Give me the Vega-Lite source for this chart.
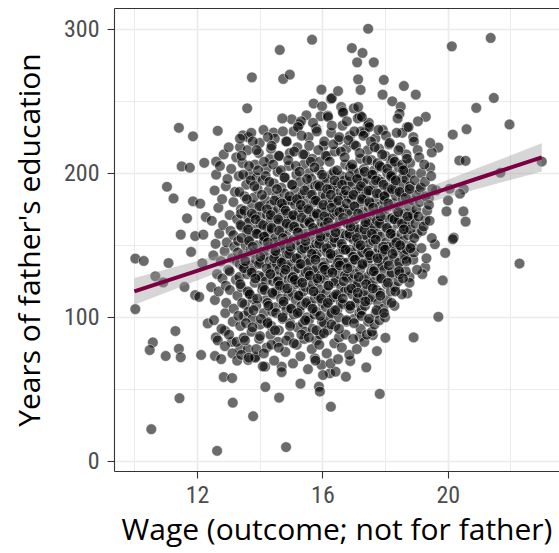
{
"$schema": "https://vega.github.io/schema/vega-lite/v6.json",
"width": 445, "height": 463,
"autosize": {"type": "none"},
"padding": {"left": 114, "top": 8, "right": 0, "bottom": 82},
"background": "white",
"config": {"view": {"stroke": null}, "font": "Open Sans"},
"datasets": {
"band": [
{"x":10,"y":118,"lo":108.7,"hi":127.3},{"x":11,"y":125.15,"lo":117.1,"hi":133.2},{"x":12,"y":132.3,"lo":125.6,"hi":139.0},{"x":13,"y":139.45,"lo":133.9,"hi":145.0},{"x":14,"y":146.6,"lo":142.2,"hi":151.0},{"x":15,"y":153.75,"lo":150.2,"hi":157.3},{"x":16,"y":160.9,"lo":157.9,"hi":163.9},{"x":17,"y":168.05,"lo":164.9,"hi":171.2},{"x":18,"y":175.2,"lo":171.4,"hi":179.0},{"x":19,"y":182.35,"lo":177.5,"hi":187.2},{"x":20,"y":189.5,"lo":183.5,"hi":195.5},{"x":21,"y":196.65,"lo":189.4,"hi":203.9},{"x":22,"y":203.8,"lo":195.3,"hi":212.3},{"x":23,"y":210.95,"lo":201.1,"hi":220.8}
],
"pts": [
{"x":10.03,"y":140.8},{"x":10.3,"y":139.1},{"x":11.09,"y":137.7},{"x":10.67,"y":128.5},{"x":10.92,"y":124.2},{"x":11.81,"y":145.4},{"x":12.17,"y":137.5},{"x":11.6,"y":121.1},{"x":11.94,"y":115.4},{"x":12.07,"y":114.2},{"x":10.03,"y":105.7},{"x":12.34,"y":95.8},{"x":12.6,"y":86.1},{"x":12.89,"y":90.7},{"x":12.57,"y":73.2},{"x":12.13,"y":73.9},{"x":13.11,"y":82.9},{"x":13.37,"y":78.2},{"x":11.31,"y":90.5},{"x":10.59,"y":82.6},{"x":10.49,"y":77.3},{"x":11.0,"y":73.2},{"x":11.42,"y":78.2},{"x":11.48,"y":72.3},{"x":12.85,"y":58.6},{"x":13.12,"y":57.9},{"x":11.44,"y":43.9},{"x":13.14,"y":40.8},{"x":13.79,"y":31.4},{"x":14.62,"y":44.3},{"x":14.18,"y":51.7},{"x":15.3,"y":54},{"x":10.54,"y":22.4},{"x":12.64,"y":7.4},{"x":14.84,"y":10},{"x":13.63,"y":70.4},{"x":13.85,"y":72.7},{"x":14.17,"y":65.8},{"x":14.7,"y":65.8},{"x":15.89,"y":51.9},{"x":15.92,"y":48.5},{"x":16.27,"y":38},{"x":15.76,"y":71.6},{"x":15.97,"y":67},{"x":16.24,"y":61.2},
{"x":15.67,"y":292.6},{"x":14.64,"y":285.5},{"x":13.75,"y":266.5},{"x":14.75,"y":265.4},{"x":14.96,"y":268.4},{"x":15.97,"y":258},{"x":13.6,"y":245},{"x":15.72,"y":248.3},{"x":15.99,"y":246.4},{"x":16.27,"y":251.5},{"x":15.02,"y":237.4},{"x":15.26,"y":233.8},{"x":15.49,"y":240.2},{"x":15.94,"y":239.5},{"x":11.42,"y":231.5},{"x":11.87,"y":225.6},{"x":12.66,"y":229.4},{"x":13.46,"y":226.3},{"x":13.63,"y":225},{"x":13.37,"y":218},{"x":14.44,"y":228.2},{"x":11.51,"y":204.7},{"x":11.77,"y":203.8},{"x":12.23,"y":207.2},{"x":12.61,"y":208.1},{"x":11.04,"y":190.6},{"x":11.25,"y":182.5},{"x":11.87,"y":180.5},{"x":12.1,"y":178.9},{"x":11.68,"y":168.7},{"x":12.28,"y":169.6},{"x":11.48,"y":157.4},{"x":11.94,"y":156.4},{"x":12.2,"y":157.4},
{"x":17.46,"y":300.2},{"x":16.94,"y":286.8},{"x":17.28,"y":283.4},{"x":17.11,"y":276.9},{"x":17.64,"y":276.9},{"x":17.14,"y":265.1},{"x":17.22,"y":257.8},{"x":17.96,"y":264.7},{"x":18.6,"y":260.5},{"x":18.98,"y":254.5},{"x":17.92,"y":254.5},{"x":18.23,"y":249.9},{"x":18.5,"y":246.2},{"x":18.46,"y":241.2},{"x":19.3,"y":239.1},{"x":20.13,"y":288},{"x":21.37,"y":293.8},{"x":21.47,"y":252.2},{"x":20.91,"y":245.3},{"x":21.97,"y":233.8},{"x":20.16,"y":226.8},{"x":20.6,"y":230.5},{"x":19.7,"y":217.8},{"x":19.49,"y":214.4},{"x":20.37,"y":208.8},{"x":20.57,"y":208.6},{"x":19.44,"y":204},{"x":23.0,"y":208.1},{"x":21.68,"y":200.3},{"x":20.06,"y":189.2},{"x":20.51,"y":189},{"x":20.39,"y":185.8},{"x":20.01,"y":181.1},{"x":19.96,"y":173.5},{"x":20.5,"y":173.5},{"x":20.57,"y":166.4},{"x":19.63,"y":188.1},{"x":19.1,"y":188.5},{"x":19.4,"y":183},{"x":19.29,"y":167.3},{"x":18.89,"y":171.9},{"x":20.19,"y":155.3},{"x":19.02,"y":158.1},
{"x":22.29,"y":137.3},{"x":19.7,"y":100.4},{"x":18.91,"y":86.1},{"x":18.01,"y":85.8},{"x":17.83,"y":46.9},{"x":17.74,"y":76.6},{"x":17.4,"y":65.3},{"x":16.89,"y":69.7},{"x":16.75,"y":58.8},{"x":16.42,"y":62.3},{"x":19.84,"y":125.6},{"x":19.92,"y":144.7},{"x":20.16,"y":154.2},{"x":19.59,"y":150.7},{"x":19.28,"y":134.6},{"x":19.19,"y":130},{"x":18.66,"y":140.8},{"x":18.78,"y":128},{"x":18.71,"y":116.6},{"x":17.19,"y":86.5},{"x":17.61,"y":87.7},
{"x":16.3,"y":252},{"x":16.6,"y":246},{"x":16.5,"y":257},{"x":17.2,"y":240},{"x":17.45,"y":233},{"x":17.0,"y":245},{"x":17.35,"y":228},{"x":18.4,"y":238},{"x":18.7,"y":232},{"x":19.05,"y":236},{"x":18.9,"y":225},{"x":18.55,"y":228},
{"x":12.54,"y":98},{"x":12.45,"y":121},{"x":12.52,"y":143},{"x":12.47,"y":167},{"x":12.56,"y":188},
{"x":12.66,"y":84},{"x":12.57,"y":112},{"x":12.64,"y":130},{"x":12.59,"y":151},{"x":12.68,"y":176},{"x":12.61,"y":199},
{"x":12.78,"y":92},{"x":12.69,"y":118},{"x":12.76,"y":139},{"x":12.71,"y":158},{"x":12.80,"y":182},{"x":12.73,"y":205},{"x":12.77,"y":71},
{"x":12.90,"y":103},{"x":12.81,"y":127},{"x":12.88,"y":146},{"x":12.83,"y":164},{"x":12.92,"y":191},{"x":12.85,"y":213},{"x":12.89,"y":80},
{"x":13.02,"y":88},{"x":12.93,"y":110},{"x":13.00,"y":133},{"x":12.95,"y":152},{"x":13.04,"y":171},{"x":12.97,"y":196},{"x":13.01,"y":218},{"x":12.92,"y":122},
{"x":13.14,"y":97},{"x":13.05,"y":119},{"x":13.12,"y":141},{"x":13.07,"y":160},{"x":13.16,"y":180},{"x":13.09,"y":203},{"x":13.13,"y":75},{"x":13.04,"y":132},
{"x":13.26,"y":83},{"x":13.17,"y":106},{"x":13.24,"y":126},{"x":13.19,"y":149},{"x":13.28,"y":168},{"x":13.21,"y":187},{"x":13.25,"y":211},{"x":13.16,"y":157},{"x":13.27,"y":139},
{"x":13.38,"y":94},{"x":13.29,"y":115},{"x":13.36,"y":137},{"x":13.31,"y":153},{"x":13.40,"y":175},{"x":13.33,"y":198},{"x":13.37,"y":224},{"x":13.28,"y":70},{"x":13.35,"y":128},
{"x":13.50,"y":101},{"x":13.41,"y":121},{"x":13.48,"y":144},{"x":13.43,"y":163},{"x":13.52,"y":184},{"x":13.45,"y":207},{"x":13.49,"y":86},{"x":13.40,"y":172},{"x":13.47,"y":135},
{"x":13.62,"y":78},{"x":13.53,"y":109},{"x":13.60,"y":130},{"x":13.55,"y":150},{"x":13.64,"y":169},{"x":13.57,"y":192},{"x":13.61,"y":216},{"x":13.52,"y":141},{"x":13.59,"y":160},
{"x":13.74,"y":90},{"x":13.65,"y":117},{"x":13.72,"y":136},{"x":13.67,"y":155},{"x":13.76,"y":178},{"x":13.69,"y":199},{"x":13.73,"y":228},{"x":13.64,"y":104},{"x":13.71,"y":147},{"x":13.66,"y":166},
{"x":13.86,"y":72},{"x":13.77,"y":99},{"x":13.84,"y":124},{"x":13.79,"y":145},{"x":13.88,"y":161},{"x":13.81,"y":183},{"x":13.85,"y":206},{"x":13.76,"y":132},{"x":13.83,"y":171},{"x":13.78,"y":113},
{"x":13.98,"y":85},{"x":13.89,"y":108},{"x":13.96,"y":129},{"x":13.91,"y":150},{"x":14.00,"y":170},{"x":13.93,"y":189},{"x":13.97,"y":214},{"x":13.88,"y":140},{"x":13.95,"y":158},{"x":13.90,"y":197},
{"x":14.10,"y":66},{"x":14.01,"y":95},{"x":14.08,"y":119},{"x":14.03,"y":138},{"x":14.12,"y":156},{"x":14.05,"y":177},{"x":14.09,"y":195},{"x":14.00,"y":221},{"x":14.07,"y":128},{"x":14.02,"y":165},{"x":14.11,"y":146},
{"x":14.22,"y":79},{"x":14.13,"y":103},{"x":14.20,"y":125},{"x":14.15,"y":143},{"x":14.24,"y":162},{"x":14.17,"y":182},{"x":14.21,"y":203},{"x":14.12,"y":230},{"x":14.19,"y":112},{"x":14.14,"y":153},{"x":14.23,"y":171},
{"x":14.34,"y":88},{"x":14.25,"y":110},{"x":14.32,"y":131},{"x":14.27,"y":149},{"x":14.36,"y":167},{"x":14.29,"y":188},{"x":14.33,"y":210},{"x":14.24,"y":97},{"x":14.31,"y":139},{"x":14.26,"y":158},{"x":14.35,"y":178},
{"x":14.46,"y":70},{"x":14.37,"y":94},{"x":14.44,"y":116},{"x":14.39,"y":135},{"x":14.48,"y":152},{"x":14.41,"y":173},{"x":14.45,"y":193},{"x":14.36,"y":217},{"x":14.43,"y":125},{"x":14.38,"y":161},{"x":14.47,"y":144},{"x":14.40,"y":104},
{"x":14.58,"y":83},{"x":14.49,"y":107},{"x":14.56,"y":128},{"x":14.51,"y":146},{"x":14.60,"y":165},{"x":14.53,"y":184},{"x":14.57,"y":201},{"x":14.48,"y":224},{"x":14.55,"y":137},{"x":14.50,"y":155},{"x":14.59,"y":175},{"x":14.52,"y":118},
{"x":14.70,"y":62},{"x":14.61,"y":91},{"x":14.68,"y":113},{"x":14.63,"y":133},{"x":14.72,"y":150},{"x":14.65,"y":169},{"x":14.69,"y":190},{"x":14.60,"y":212},{"x":14.67,"y":123},{"x":14.62,"y":141},{"x":14.71,"y":159},{"x":14.64,"y":180},
{"x":14.82,"y":76},{"x":14.73,"y":99},{"x":14.80,"y":120},{"x":14.75,"y":139},{"x":14.84,"y":157},{"x":14.77,"y":176},{"x":14.81,"y":197},{"x":14.72,"y":238},{"x":14.79,"y":130},{"x":14.74,"y":148},{"x":14.83,"y":166},{"x":14.76,"y":109},{"x":14.78,"y":186},
{"x":14.94,"y":87},{"x":14.85,"y":105},{"x":14.92,"y":126},{"x":14.87,"y":144},{"x":14.96,"y":163},{"x":14.89,"y":181},{"x":14.93,"y":205},{"x":14.84,"y":222},{"x":14.91,"y":115},{"x":14.86,"y":135},{"x":14.95,"y":153},{"x":14.88,"y":172},
{"x":15.06,"y":68},{"x":14.97,"y":96},{"x":15.04,"y":117},{"x":14.99,"y":137},{"x":15.08,"y":154},{"x":15.01,"y":170},{"x":15.05,"y":192},{"x":14.96,"y":214},{"x":15.03,"y":127},{"x":14.98,"y":146},{"x":15.07,"y":162},{"x":15.00,"y":181},{"x":15.02,"y":106},
{"x":15.18,"y":81},{"x":15.09,"y":102},{"x":15.16,"y":123},{"x":15.11,"y":141},{"x":15.20,"y":159},{"x":15.13,"y":178},{"x":15.17,"y":199},{"x":15.08,"y":229},{"x":15.15,"y":112},{"x":15.10,"y":132},{"x":15.19,"y":150},{"x":15.12,"y":168},{"x":15.14,"y":188},
{"x":15.30,"y":73},{"x":15.21,"y":93},{"x":15.28,"y":115},{"x":15.23,"y":134},{"x":15.32,"y":152},{"x":15.25,"y":173},{"x":15.29,"y":194},{"x":15.20,"y":218},{"x":15.27,"y":104},{"x":15.22,"y":124},{"x":15.31,"y":143},{"x":15.24,"y":162},{"x":15.26,"y":183},
{"x":15.42,"y":85},{"x":15.33,"y":108},{"x":15.40,"y":128},{"x":15.35,"y":147},{"x":15.44,"y":165},{"x":15.37,"y":185},{"x":15.41,"y":206},{"x":15.32,"y":236},{"x":15.39,"y":118},{"x":15.34,"y":137},{"x":15.43,"y":156},{"x":15.36,"y":175},{"x":15.38,"y":96},
{"x":15.54,"y":64},{"x":15.45,"y":90},{"x":15.52,"y":111},{"x":15.47,"y":131},{"x":15.56,"y":149},{"x":15.49,"y":168},{"x":15.53,"y":190},{"x":15.44,"y":213},{"x":15.51,"y":100},{"x":15.46,"y":121},{"x":15.55,"y":140},{"x":15.48,"y":158},{"x":15.50,"y":179},{"x":15.57,"y":200},
{"x":15.66,"y":78},{"x":15.57,"y":98},{"x":15.64,"y":119},{"x":15.59,"y":138},{"x":15.68,"y":156},{"x":15.61,"y":174},{"x":15.65,"y":196},{"x":15.56,"y":225},{"x":15.63,"y":108},{"x":15.58,"y":128},{"x":15.67,"y":147},{"x":15.60,"y":165},{"x":15.62,"y":185},
{"x":15.78,"y":70},{"x":15.69,"y":92},{"x":15.76,"y":113},{"x":15.71,"y":132},{"x":15.80,"y":151},{"x":15.73,"y":170},{"x":15.77,"y":191},{"x":15.68,"y":210},{"x":15.75,"y":102},{"x":15.70,"y":123},{"x":15.79,"y":142},{"x":15.72,"y":160},{"x":15.74,"y":180},{"x":15.81,"y":84},
{"x":15.90,"y":81},{"x":15.81,"y":104},{"x":15.88,"y":125},{"x":15.83,"y":144},{"x":15.92,"y":162},{"x":15.85,"y":181},{"x":15.89,"y":202},{"x":15.80,"y":231},{"x":15.87,"y":115},{"x":15.82,"y":134},{"x":15.91,"y":153},{"x":15.84,"y":171},{"x":15.86,"y":192},
{"x":16.02,"y":60},{"x":15.93,"y":88},{"x":16.00,"y":110},{"x":15.95,"y":129},{"x":16.04,"y":148},{"x":15.97,"y":166},{"x":16.01,"y":186},{"x":15.92,"y":208},{"x":15.99,"y":97},{"x":15.94,"y":119},{"x":16.03,"y":138},{"x":15.96,"y":157},{"x":15.98,"y":176},{"x":16.05,"y":197},
{"x":16.14,"y":75},{"x":16.05,"y":96},{"x":16.12,"y":117},{"x":16.07,"y":136},{"x":16.16,"y":155},{"x":16.09,"y":173},{"x":16.13,"y":194},{"x":16.04,"y":219},{"x":16.11,"y":107},{"x":16.06,"y":127},{"x":16.15,"y":145},{"x":16.08,"y":164},{"x":16.10,"y":184},{"x":16.17,"y":240},
{"x":16.26,"y":68},{"x":16.17,"y":91},{"x":16.24,"y":112},{"x":16.19,"y":131},{"x":16.28,"y":150},{"x":16.21,"y":169},{"x":16.25,"y":189},{"x":16.16,"y":212},{"x":16.23,"y":101},{"x":16.18,"y":122},{"x":16.27,"y":141},{"x":16.20,"y":159},{"x":16.22,"y":179},{"x":16.29,"y":199},
{"x":16.38,"y":82},{"x":16.29,"y":103},{"x":16.36,"y":124},{"x":16.31,"y":143},{"x":16.40,"y":161},{"x":16.33,"y":180},{"x":16.37,"y":201},{"x":16.28,"y":228},{"x":16.35,"y":114},{"x":16.30,"y":133},{"x":16.39,"y":152},{"x":16.32,"y":171},{"x":16.34,"y":190},
{"x":16.50,"y":71},{"x":16.41,"y":94},{"x":16.48,"y":115},{"x":16.43,"y":135},{"x":16.52,"y":154},{"x":16.45,"y":173},{"x":16.49,"y":193},{"x":16.40,"y":215},{"x":16.47,"y":105},{"x":16.42,"y":125},{"x":16.51,"y":144},{"x":16.44,"y":163},{"x":16.46,"y":183},{"x":16.53,"y":86},
{"x":16.62,"y":79},{"x":16.53,"y":100},{"x":16.60,"y":121},{"x":16.55,"y":140},{"x":16.64,"y":158},{"x":16.57,"y":177},{"x":16.61,"y":198},{"x":16.52,"y":223},{"x":16.59,"y":110},{"x":16.54,"y":130},{"x":16.63,"y":149},{"x":16.56,"y":167},{"x":16.58,"y":187},{"x":16.65,"y":243},
{"x":16.74,"y":88},{"x":16.65,"y":109},{"x":16.72,"y":129},{"x":16.67,"y":147},{"x":16.76,"y":166},{"x":16.69,"y":185},{"x":16.73,"y":206},{"x":16.64,"y":233},{"x":16.71,"y":118},{"x":16.66,"y":138},{"x":16.75,"y":157},{"x":16.68,"y":175},{"x":16.70,"y":195},
{"x":16.86,"y":74},{"x":16.77,"y":97},{"x":16.84,"y":119},{"x":16.79,"y":138},{"x":16.88,"y":156},{"x":16.81,"y":174},{"x":16.85,"y":194},{"x":16.76,"y":217},{"x":16.83,"y":108},{"x":16.78,"y":128},{"x":16.87,"y":147},{"x":16.80,"y":165},{"x":16.82,"y":184},{"x":16.89,"y":204},
{"x":16.98,"y":85},{"x":16.89,"y":106},{"x":16.96,"y":126},{"x":16.91,"y":145},{"x":17.00,"y":163},{"x":16.93,"y":182},{"x":16.97,"y":203},{"x":16.88,"y":226},{"x":16.95,"y":116},{"x":16.90,"y":135},{"x":16.99,"y":154},{"x":16.92,"y":172},{"x":16.94,"y":192},
{"x":17.10,"y":78},{"x":17.01,"y":99},{"x":17.08,"y":121},{"x":17.03,"y":140},{"x":17.12,"y":159},{"x":17.05,"y":177},{"x":17.09,"y":197},{"x":17.00,"y":220},{"x":17.07,"y":110},{"x":17.02,"y":130},{"x":17.11,"y":149},{"x":17.04,"y":168},{"x":17.06,"y":187},{"x":17.13,"y":238},
{"x":17.22,"y":92},{"x":17.13,"y":113},{"x":17.20,"y":133},{"x":17.15,"y":151},{"x":17.24,"y":170},{"x":17.17,"y":189},{"x":17.21,"y":210},{"x":17.12,"y":123},{"x":17.19,"y":142},{"x":17.14,"y":161},{"x":17.23,"y":180},{"x":17.16,"y":200},{"x":17.18,"y":103},
{"x":17.34,"y":83},{"x":17.25,"y":105},{"x":17.32,"y":126},{"x":17.27,"y":145},{"x":17.36,"y":164},{"x":17.29,"y":183},{"x":17.33,"y":203},{"x":17.24,"y":229},{"x":17.31,"y":115},{"x":17.26,"y":136},{"x":17.35,"y":155},{"x":17.28,"y":173},{"x":17.30,"y":193},
{"x":17.46,"y":97},{"x":17.37,"y":118},{"x":17.44,"y":138},{"x":17.39,"y":157},{"x":17.48,"y":176},{"x":17.41,"y":196},{"x":17.45,"y":216},{"x":17.36,"y":108},{"x":17.43,"y":128},{"x":17.38,"y":147},{"x":17.47,"y":166},{"x":17.40,"y":186},{"x":17.42,"y":88},
{"x":17.58,"y":90},{"x":17.49,"y":112},{"x":17.56,"y":132},{"x":17.51,"y":151},{"x":17.60,"y":169},{"x":17.53,"y":188},{"x":17.57,"y":209},{"x":17.48,"y":235},{"x":17.55,"y":122},{"x":17.50,"y":141},{"x":17.59,"y":160},{"x":17.52,"y":179},{"x":17.54,"y":199},
{"x":17.70,"y":103},{"x":17.61,"y":124},{"x":17.68,"y":144},{"x":17.63,"y":163},{"x":17.72,"y":182},{"x":17.65,"y":202},{"x":17.69,"y":224},{"x":17.60,"y":114},{"x":17.67,"y":134},{"x":17.62,"y":153},{"x":17.71,"y":172},{"x":17.64,"y":192},{"x":17.66,"y":95},
{"x":17.82,"y":98},{"x":17.73,"y":119},{"x":17.80,"y":139},{"x":17.75,"y":158},{"x":17.84,"y":177},{"x":17.77,"y":196},{"x":17.81,"y":217},{"x":17.72,"y":129},{"x":17.79,"y":148},{"x":17.74,"y":167},{"x":17.83,"y":186},{"x":17.76,"y":207},{"x":17.78,"y":110},
{"x":17.94,"y":106},{"x":17.85,"y":127},{"x":17.92,"y":146},{"x":17.87,"y":165},{"x":17.96,"y":184},{"x":17.89,"y":204},{"x":17.93,"y":230},{"x":17.84,"y":117},{"x":17.91,"y":136},{"x":17.86,"y":156},{"x":17.95,"y":175},{"x":17.88,"y":194},
{"x":18.06,"y":112},{"x":17.97,"y":133},{"x":18.04,"y":152},{"x":17.99,"y":171},{"x":18.08,"y":190},{"x":18.01,"y":212},{"x":18.05,"y":123},{"x":17.96,"y":143},{"x":18.03,"y":162},{"x":17.98,"y":181},{"x":18.07,"y":200},{"x":18.00,"y":100},
{"x":18.18,"y":118},{"x":18.09,"y":139},{"x":18.16,"y":158},{"x":18.11,"y":177},{"x":18.20,"y":197},{"x":18.13,"y":220},{"x":18.17,"y":129},{"x":18.08,"y":149},{"x":18.15,"y":168},{"x":18.10,"y":187},{"x":18.19,"y":207},
{"x":18.30,"y":108},{"x":18.21,"y":131},{"x":18.28,"y":150},{"x":18.23,"y":169},{"x":18.32,"y":189},{"x":18.25,"y":210},{"x":18.29,"y":141},{"x":18.20,"y":160},{"x":18.27,"y":179},{"x":18.22,"y":199},{"x":18.31,"y":121},
{"x":18.42,"y":125},{"x":18.33,"y":146},{"x":18.40,"y":165},{"x":18.35,"y":184},{"x":18.44,"y":204},{"x":18.37,"y":228},{"x":18.41,"y":135},{"x":18.32,"y":155},{"x":18.39,"y":174},{"x":18.34,"y":194},
{"x":18.54,"y":116},{"x":18.45,"y":138},{"x":18.52,"y":158},{"x":18.47,"y":177},{"x":18.56,"y":197},{"x":18.49,"y":218},{"x":18.53,"y":148},{"x":18.44,"y":168},{"x":18.51,"y":187},{"x":18.46,"y":130},
{"x":18.66,"y":132},{"x":18.57,"y":153},{"x":18.64,"y":172},{"x":18.59,"y":192},{"x":18.68,"y":213},{"x":18.61,"y":143},{"x":18.65,"y":163},{"x":18.56,"y":182},{"x":18.63,"y":202},
{"x":18.78,"y":124},{"x":18.69,"y":147},{"x":18.76,"y":167},{"x":18.71,"y":186},{"x":18.80,"y":207},{"x":18.73,"y":157},{"x":18.77,"y":177},{"x":18.68,"y":196},{"x":18.75,"y":232},
{"x":18.90,"y":140},{"x":18.81,"y":161},{"x":18.88,"y":181},{"x":18.83,"y":200},{"x":18.92,"y":222},{"x":18.85,"y":150},{"x":18.89,"y":171},{"x":18.80,"y":191},
{"x":19.02,"y":133},{"x":18.93,"y":155},{"x":19.00,"y":175},{"x":18.95,"y":195},{"x":19.04,"y":216},{"x":18.97,"y":165},{"x":19.01,"y":185},{"x":18.92,"y":145},
{"x":19.16,"y":148},{"x":19.07,"y":170},{"x":19.14,"y":190},{"x":19.09,"y":211},{"x":19.18,"y":160},{"x":19.11,"y":180},{"x":19.15,"y":200},
{"x":19.32,"y":141},{"x":19.23,"y":163},{"x":19.30,"y":184},{"x":19.25,"y":206},{"x":19.34,"y":174},{"x":19.27,"y":194},
{"x":19.49,"y":155},{"x":19.40,"y":178},{"x":19.47,"y":198},{"x":19.42,"y":167},{"x":19.51,"y":189},{"x":19.44,"y":221},
{"x":13.41,"y":74},{"x":13.32,"y":101},{"x":13.38,"y":123},{"x":13.30,"y":145},{"x":13.39,"y":164},{"x":13.35,"y":187},{"x":13.42,"y":212},
{"x":13.53,"y":84},{"x":13.44,"y":110},{"x":13.50,"y":134},{"x":13.42,"y":155},{"x":13.51,"y":174},{"x":13.47,"y":199},
{"x":13.65,"y":72},{"x":13.56,"y":96},{"x":13.62,"y":118},{"x":13.54,"y":139},{"x":13.63,"y":161},{"x":13.59,"y":182},{"x":13.66,"y":205},
{"x":13.77,"y":93},{"x":13.68,"y":116},{"x":13.74,"y":131},{"x":13.66,"y":153},{"x":13.75,"y":172},{"x":13.71,"y":195},{"x":13.78,"y":222},
{"x":13.89,"y":78},{"x":13.80,"y":105},{"x":13.86,"y":127},{"x":13.78,"y":149},{"x":13.87,"y":168},{"x":13.83,"y":191},{"x":13.90,"y":216},
{"x":14.01,"y":87},{"x":13.92,"y":113},{"x":13.98,"y":137},{"x":13.90,"y":158},{"x":13.99,"y":177},{"x":13.95,"y":202},
{"x":14.13,"y":75},{"x":14.04,"y":99},{"x":14.10,"y":121},{"x":14.02,"y":142},{"x":14.11,"y":164},{"x":14.07,"y":185},{"x":14.14,"y":208},
{"x":14.25,"y":96},{"x":14.16,"y":119},{"x":14.22,"y":134},{"x":14.14,"y":156},{"x":14.23,"y":175},{"x":14.19,"y":198},{"x":14.26,"y":225},
{"x":14.37,"y":81},{"x":14.28,"y":108},{"x":14.34,"y":130},{"x":14.26,"y":152},{"x":14.35,"y":171},{"x":14.31,"y":194},{"x":14.38,"y":219},
{"x":14.49,"y":91},{"x":14.40,"y":117},{"x":14.46,"y":141},{"x":14.38,"y":162},{"x":14.47,"y":181},{"x":14.43,"y":206},
{"x":14.61,"y":79},{"x":14.52,"y":103},{"x":14.58,"y":125},{"x":14.50,"y":146},{"x":14.59,"y":168},{"x":14.55,"y":189},{"x":14.62,"y":212},
{"x":14.73,"y":100},{"x":14.64,"y":122},{"x":14.70,"y":138},{"x":14.62,"y":160},{"x":14.71,"y":179},{"x":14.67,"y":202},{"x":14.74,"y":229},
{"x":14.85,"y":84},{"x":14.76,"y":111},{"x":14.82,"y":133},{"x":14.74,"y":155},{"x":14.83,"y":174},{"x":14.79,"y":197},{"x":14.86,"y":222},
{"x":14.97,"y":94},{"x":14.88,"y":120},{"x":14.94,"y":144},{"x":14.86,"y":165},{"x":14.95,"y":184},{"x":14.91,"y":209},
{"x":15.09,"y":82},{"x":15.00,"y":106},{"x":15.06,"y":128},{"x":14.98,"y":149},{"x":15.07,"y":171},{"x":15.03,"y":192},{"x":15.10,"y":215},
{"x":15.21,"y":103},{"x":15.12,"y":126},{"x":15.18,"y":141},{"x":15.10,"y":163},{"x":15.19,"y":182},{"x":15.15,"y":205},{"x":15.22,"y":232},
{"x":15.33,"y":88},{"x":15.24,"y":115},{"x":15.30,"y":137},{"x":15.22,"y":159},{"x":15.31,"y":178},{"x":15.27,"y":201},{"x":15.34,"y":226},
{"x":15.45,"y":98},{"x":15.36,"y":124},{"x":15.42,"y":148},{"x":15.34,"y":169},{"x":15.43,"y":188},{"x":15.39,"y":213},
{"x":15.57,"y":86},{"x":15.48,"y":110},{"x":15.54,"y":132},{"x":15.46,"y":153},{"x":15.55,"y":175},{"x":15.51,"y":196},{"x":15.58,"y":219},
{"x":15.69,"y":106},{"x":15.60,"y":129},{"x":15.66,"y":144},{"x":15.58,"y":166},{"x":15.67,"y":185},{"x":15.63,"y":208},{"x":15.70,"y":235},
{"x":15.81,"y":91},{"x":15.72,"y":118},{"x":15.78,"y":140},{"x":15.70,"y":162},{"x":15.79,"y":181},{"x":15.75,"y":204},{"x":15.82,"y":229},
{"x":15.93,"y":101},{"x":15.84,"y":127},{"x":15.90,"y":151},{"x":15.82,"y":172},{"x":15.91,"y":191},{"x":15.87,"y":216},
{"x":16.05,"y":89},{"x":15.96,"y":113},{"x":16.02,"y":135},{"x":15.94,"y":156},{"x":16.03,"y":178},{"x":15.99,"y":199},{"x":16.06,"y":222},
{"x":16.17,"y":110},{"x":16.08,"y":133},{"x":16.14,"y":148},{"x":16.06,"y":170},{"x":16.15,"y":189},{"x":16.11,"y":212},{"x":16.18,"y":239},
{"x":16.29,"y":95},{"x":16.20,"y":122},{"x":16.26,"y":144},{"x":16.18,"y":166},{"x":16.27,"y":185},{"x":16.23,"y":208},{"x":16.30,"y":233},
{"x":16.41,"y":105},{"x":16.32,"y":131},{"x":16.38,"y":155},{"x":16.30,"y":176},{"x":16.39,"y":195},{"x":16.35,"y":220},
{"x":16.53,"y":92},{"x":16.44,"y":116},{"x":16.50,"y":138},{"x":16.42,"y":159},{"x":16.51,"y":181},{"x":16.47,"y":202},{"x":16.54,"y":225},
{"x":16.65,"y":113},{"x":16.56,"y":136},{"x":16.62,"y":151},{"x":16.54,"y":173},{"x":16.63,"y":192},{"x":16.59,"y":215},{"x":16.66,"y":242},
{"x":16.77,"y":98},{"x":16.68,"y":125},{"x":16.74,"y":147},{"x":16.66,"y":169},{"x":16.75,"y":188},{"x":16.71,"y":211},{"x":16.78,"y":236},
{"x":16.89,"y":108},{"x":16.80,"y":134},{"x":16.86,"y":158},{"x":16.78,"y":179},{"x":16.87,"y":198},{"x":16.83,"y":223},
{"x":17.01,"y":96},{"x":16.92,"y":120},{"x":16.98,"y":142},{"x":16.90,"y":163},{"x":16.99,"y":185},{"x":16.95,"y":206},{"x":17.02,"y":229},
{"x":17.13,"y":117},{"x":17.04,"y":140},{"x":17.10,"y":155},{"x":17.02,"y":177},{"x":17.11,"y":196},{"x":17.07,"y":219},{"x":17.14,"y":246},
{"x":17.25,"y":101},{"x":17.16,"y":128},{"x":17.22,"y":150},{"x":17.14,"y":172},{"x":17.23,"y":191},{"x":17.19,"y":214},{"x":17.26,"y":239},
{"x":17.37,"y":111},{"x":17.28,"y":137},{"x":17.34,"y":161},{"x":17.26,"y":182},{"x":17.35,"y":201},{"x":17.31,"y":226},
{"x":17.49,"y":99},{"x":17.40,"y":123},{"x":17.46,"y":145},{"x":17.38,"y":166},{"x":17.47,"y":188},{"x":17.43,"y":209},{"x":17.50,"y":232},
{"x":17.61,"y":120},{"x":17.52,"y":143},{"x":17.58,"y":158},{"x":17.50,"y":180},{"x":17.59,"y":199},{"x":17.55,"y":222},
{"x":17.73,"y":105},{"x":17.64,"y":132},{"x":17.70,"y":154},{"x":17.62,"y":176},{"x":17.71,"y":195},{"x":17.67,"y":218},
{"x":17.85,"y":115},{"x":17.76,"y":141},{"x":17.82,"y":165},{"x":17.74,"y":186},{"x":17.83,"y":205},{"x":17.79,"y":230},
{"x":17.97,"y":103},{"x":17.88,"y":127},{"x":17.94,"y":149},{"x":17.86,"y":170},{"x":17.95,"y":192},{"x":17.91,"y":213},
{"x":18.09,"y":124},{"x":18.00,"y":147},{"x":18.06,"y":162},{"x":17.98,"y":184},{"x":18.07,"y":203},{"x":18.03,"y":226},
{"x":18.21,"y":110},{"x":18.12,"y":136},{"x":18.18,"y":158},{"x":18.10,"y":179},{"x":18.19,"y":198},{"x":18.15,"y":221},
{"x":18.33,"y":118},{"x":18.24,"y":144},{"x":18.30,"y":168},{"x":18.22,"y":189},{"x":18.31,"y":208},
{"x":18.45,"y":132},{"x":18.36,"y":152},{"x":18.42,"y":173},{"x":18.34,"y":195},{"x":18.43,"y":216},
{"x":18.57,"y":127},{"x":18.48,"y":150},{"x":18.54,"y":165},{"x":18.46,"y":187},{"x":18.55,"y":206},
{"x":18.69,"y":139},{"x":18.60,"y":161},{"x":18.66,"y":183},{"x":18.58,"y":202},
{"x":18.81,"y":148},{"x":18.72,"y":170},{"x":18.78,"y":189},{"x":18.70,"y":210}
]
},
"resolve": {"axis": {"x": "independent"}},
"layer": [
{
"data": {"name": "pts"},
"mark": {"type": "point", "shape": "circle", "filled": true, "size": 115, "fill": "black", "fillOpacity": 0.58, "stroke": "white", "strokeOpacity": 0.7, "strokeWidth": 0.7},
"encoding": {
"x": {"field": "x", "type": "quantitative", "scale": {"domain": [9.35, 23.55], "nice": false, "zero": false},
"axis": {"title": "Wage (outcome; not for father)", "values": [10,12,14,16,18,20,22],
"labelExpr": "datum.value % 4 === 0 ? datum.label : ''",
"grid": true, "gridColor": "#ebebeb",
"gridWidth": {"condition": {"test": "datum.value % 4 === 0", "value": 1.7}, "value": 1},
"tickColor": {"condition": {"test": "datum.value % 4 === 0", "value": "#333333"}, "value": "transparent"},
"tickSize": 7, "tickWidth": 1.1, "domainColor": "#333333", "domainWidth": 1.1,
"labelFontSize": 24, "labelColor": "#4d4d4d", "labelPadding": 5, "labelFont": "Liberation Sans Narrow, Roboto Condensed, Roboto",
"titleFontSize": 30, "titleColor": "black", "titleFontWeight": "normal", "titlePadding": 8, "titleFont": "Open Sans"}},
"y": {"field": "y", "type": "quantitative", "scale": {"domain": [-6.6, 314.6], "nice": false, "zero": false},
"axis": {"title": "Years of father's education", "values": [0,50,100,150,200,250,300],
"labelExpr": "datum.value % 100 === 0 ? datum.label : ''",
"grid": true, "gridColor": "#ebebeb",
"gridWidth": {"condition": {"test": "datum.value % 100 === 0", "value": 1.7}, "value": 1},
"tickColor": {"condition": {"test": "datum.value % 100 === 0", "value": "#333333"}, "value": "transparent"},
"tickSize": 7, "tickWidth": 1.1, "domainColor": "#333333", "domainWidth": 1.1,
"labelFontSize": 24, "labelColor": "#4d4d4d", "labelPadding": 8, "labelFont": "Liberation Sans Narrow, Roboto Condensed, Roboto",
"titleFontSize": 30, "titleColor": "black", "titleFontWeight": "normal", "titlePadding": 18, "titleFont": "Open Sans"}}
}
},
{
"data": {"name": "band"},
"mark": {"type": "area", "color": "#999999", "opacity": 0.4},
"encoding": {
"x": {"field": "x", "type": "quantitative", "axis": {"orient": "top", "labels": false, "ticks": false, "grid": false, "title": null, "domain": true, "domainColor": "#333333", "domainWidth": 1.1}},
"y": {"field": "lo", "type": "quantitative"},
"y2": {"field": "hi"}
}
},
{
"data": {"name": "band"},
"mark": {"type": "line", "color": "#7a0043", "strokeWidth": 4},
"encoding": {
"x": {"field": "x", "type": "quantitative", "axis": null},
"y": {"field": "y", "type": "quantitative"}
}
}
]
}
